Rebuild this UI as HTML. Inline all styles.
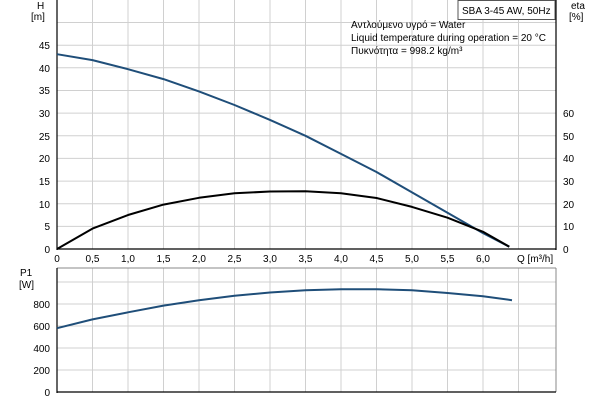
<!DOCTYPE html><html><head><style>body{margin:0;background:#fff}svg{display:block;font-family:"Liberation Sans",sans-serif;font-size:10px}</style></head><body>
<svg width="600" height="400" viewBox="0 0 600 400">
<g stroke="#d0d0d0" stroke-width="1">
<line x1="92.5" y1="0" x2="92.5" y2="249"/><line x1="128" y1="0" x2="128" y2="249"/><line x1="163.5" y1="0" x2="163.5" y2="249"/><line x1="199" y1="0" x2="199" y2="249"/><line x1="234.5" y1="0" x2="234.5" y2="249"/><line x1="270" y1="0" x2="270" y2="249"/><line x1="305.5" y1="0" x2="305.5" y2="249"/><line x1="341" y1="0" x2="341" y2="249"/><line x1="376.5" y1="0" x2="376.5" y2="249"/><line x1="412" y1="0" x2="412" y2="249"/><line x1="447.5" y1="0" x2="447.5" y2="249"/><line x1="483" y1="0" x2="483" y2="249"/><line x1="518.5" y1="0" x2="518.5" y2="249"/>
<line x1="57" y1="226.4" x2="556" y2="226.4"/><line x1="57" y1="203.7" x2="556" y2="203.7"/><line x1="57" y1="181.1" x2="556" y2="181.1"/><line x1="57" y1="158.4" x2="556" y2="158.4"/><line x1="57" y1="135.8" x2="556" y2="135.8"/><line x1="57" y1="113.1" x2="556" y2="113.1"/><line x1="57" y1="90.5" x2="556" y2="90.5"/><line x1="57" y1="67.8" x2="556" y2="67.8"/><line x1="57" y1="45.2" x2="556" y2="45.2"/><line x1="57" y1="22.5" x2="556" y2="22.5"/>
<line x1="92.5" y1="268" x2="92.5" y2="392"/><line x1="128" y1="268" x2="128" y2="392"/><line x1="163.5" y1="268" x2="163.5" y2="392"/><line x1="199" y1="268" x2="199" y2="392"/><line x1="234.5" y1="268" x2="234.5" y2="392"/><line x1="270" y1="268" x2="270" y2="392"/><line x1="305.5" y1="268" x2="305.5" y2="392"/><line x1="341" y1="268" x2="341" y2="392"/><line x1="376.5" y1="268" x2="376.5" y2="392"/><line x1="412" y1="268" x2="412" y2="392"/><line x1="447.5" y1="268" x2="447.5" y2="392"/><line x1="483" y1="268" x2="483" y2="392"/><line x1="518.5" y1="268" x2="518.5" y2="392"/>
<line x1="57" y1="370" x2="556" y2="370"/><line x1="57" y1="348" x2="556" y2="348"/><line x1="57" y1="326" x2="556" y2="326"/><line x1="57" y1="304" x2="556" y2="304"/><line x1="57" y1="282" x2="556" y2="282"/>
</g>
<g stroke="#888" fill="none"><line x1="57" y1="268" x2="556" y2="268"/><line x1="556" y1="268" x2="556" y2="392"/></g>
<g stroke="#000" stroke-width="1.2">
<line x1="57" y1="0" x2="57" y2="250"/><line x1="57" y1="249" x2="556" y2="249"/><line x1="556" y1="0" x2="556" y2="250"/>
<line x1="57" y1="268" x2="57" y2="393"/><line x1="57" y1="392" x2="556" y2="392"/>
</g>
<rect x="458" y="0.5" width="97" height="19" fill="#fff" stroke="#555"/>
<text x="462" y="14">SBA 3-45 AW, 50Hz</text>
<text x="351" y="28">Αντλούμενο υγρό = Water</text>
<text x="351" y="41">Liquid temperature during operation = 20 °C</text>
<text x="351" y="54">Πυκνότητα = 998.2 kg/m³</text>
<text x="37" y="9">H</text><text x="31" y="20">[m]</text>
<text x="571" y="9">eta</text><text x="569" y="20">[%]</text>
<g text-anchor="end"><text x="50" y="253">0</text><text x="50" y="230">5</text><text x="50" y="208">10</text><text x="50" y="185">15</text><text x="50" y="162">20</text><text x="50" y="140">25</text><text x="50" y="117">30</text><text x="50" y="94">35</text><text x="50" y="72">40</text><text x="50" y="49">45</text>
<text x="50" y="396">0</text><text x="50" y="374">200</text><text x="50" y="352">400</text><text x="50" y="330">600</text><text x="50" y="308">800</text></g>
<text x="20" y="276">P1</text><text x="19" y="288">[W]</text>
<g><text x="563" y="253">0</text><text x="563" y="230">10</text><text x="563" y="208">20</text><text x="563" y="185">30</text><text x="563" y="162">40</text><text x="563" y="140">50</text><text x="563" y="117">60</text></g>
<g text-anchor="middle"><text x="57" y="262">0</text><text x="92.5" y="262">0,5</text><text x="128" y="262">1,0</text><text x="163.5" y="262">1,5</text><text x="199" y="262">2,0</text><text x="234.5" y="262">2,5</text><text x="270" y="262">3,0</text><text x="305.5" y="262">3,5</text><text x="341" y="262">4,0</text><text x="376.5" y="262">4,5</text><text x="412" y="262">5,0</text><text x="447.5" y="262">5,5</text><text x="483" y="262">6,0</text></g>
<text x="517" y="262">Q [m³/h]</text>
<g fill="none" stroke-width="2" stroke-linejoin="round">
<polyline stroke="#1f4e79" points="57,54.2 92.5,60.1 128,69.2 163.5,79.1 199,91.4 234.5,105 270,119.9 305.5,135.8 341,153.9 376.5,172 412,192.4 447.5,212.8 483,233.1 509.3,246.7"/>
<polyline stroke="#000" points="57,249 92.5,228.6 128,215 163.5,204.6 199,197.8 234.5,193.3 270,191.5 305.5,191.2 341,193.3 376.5,198 412,206.9 447.5,217.7 483,231.8 509.3,246.7"/>
<polyline stroke="#1f4e79" points="57,328.2 92.5,319.4 128,312.3 163.5,305.6 199,300.2 234.5,295.8 270,292.5 305.5,290.3 341,289.2 376.5,289.2 412,290.3 447.5,293 483,296.3 512,300.2"/>
</g>
</svg></body></html>
